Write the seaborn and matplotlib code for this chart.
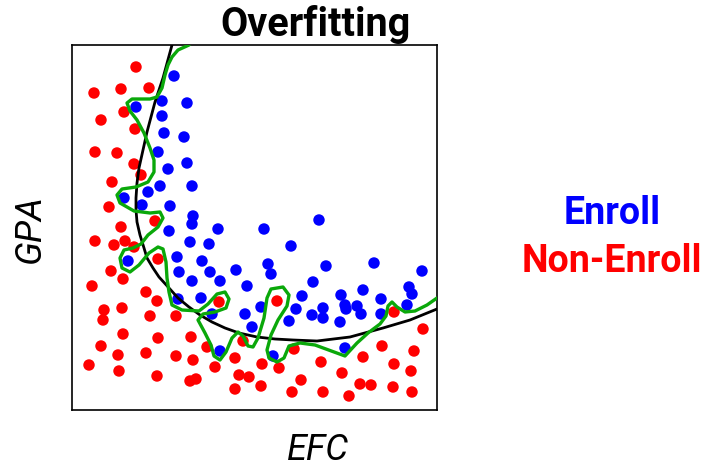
import numpy as np
import pandas as pd
import matplotlib
matplotlib.use("Agg")
import matplotlib.pyplot as plt
import seaborn as sns

# pontos (EFC, GPA) em unidades arbitrarias 0-365
enroll_efc = [102, 64, 90, 115, 90, 92, 112, 86, 115, 96, 88, 76, 120, 52, 70, 98, 121, 120,
              97, 118, 56, 105, 107, 120, 106, 146, 192, 137, 219, 130, 196, 138, 164, 199,
              148, 175, 241, 129, 140, 173, 189, 180, 148, 201, 230, 224, 217, 240, 247, 254,
              302, 350, 291, 337, 269, 340, 251, 251, 273, 274, 285, 289, 309, 309, 335, 268, 273]
enroll_gpa = [334, 303, 309, 307, 294, 277, 273, 258, 247, 241, 224, 218, 224, 212, 205, 204, 194, 186,
              179, 168, 149, 153, 138, 129, 111, 181, 181, 166, 164, 149, 146, 138, 140, 136,
              129, 124, 128, 112, 96, 96, 103, 83, 59, 54, 114, 101, 89, 95, 190, 144,
              147, 139, 120, 123, 115, 116, 102, 92, 105, 101, 104, 96, 111, 96, 105, 88, 62]

nonenroll_efc = [64, 22, 49, 77, 52, 29, 63, 23, 45, 62, 69, 40, 37, 83, 49, 23, 42, 53, 62, 86,
                 39, 51, 20, 74, 85, 32, 50, 31, 78, 104, 51, 86, 119, 29, 46, 74, 104, 121, 17,
                 47, 85, 118, 124, 147, 205, 135, 171, 222, 143, 163, 190, 207, 167, 177, 189,
                 229, 163, 220, 322, 351, 310, 342, 249, 291, 322, 339, 270, 288, 299, 321, 340,
                 251, 277]
nonenroll_gpa = [343, 317, 321, 322, 298, 290, 281, 258, 257, 246, 235, 228, 203, 189, 183, 169, 165, 169, 163, 151,
                 139, 131, 124, 118, 109, 100, 102, 90, 94, 94, 76, 72, 73, 64, 55, 57, 54, 50, 45,
                 39, 34, 29, 31, 108, 109, 63, 69, 61, 43, 52, 46, 42, 35, 33, 24,
                 30, 21, 18, 98, 81, 64, 59, 48, 53, 46, 39, 37, 26, 25, 23, 18,
                 18, 14]

# fronteira suave (preta)
smooth_efc = [102, 100, 91, 83, 75, 67, 65, 64, 64, 65, 68, 72, 75, 81, 87, 97, 106, 117, 128, 140,
              153, 167, 185, 203, 221, 245, 278, 311, 338, 365]
smooth_gpa = [370, 365, 332, 308, 278, 242, 227, 212, 200, 188, 175, 162, 152, 142, 133, 122, 112, 103, 95, 88,
              82, 77, 73, 71, 70, 69, 73, 82, 90, 101]

# fronteira sobreajustada (verde)
over_efc = [117, 106, 100, 96, 93, 90, 85, 78, 60, 55, 58, 65, 72, 78, 82, 82, 76, 64, 50, 45,
            48, 62, 78, 88, 91, 86, 76, 69, 61, 52, 48, 50, 58, 67, 77, 86, 91, 94, 95, 97,
            100, 110, 127, 136, 145, 153, 157, 154, 143, 131, 126, 133, 139, 142, 148, 154,
            160, 166, 171, 176, 181, 186, 192, 195, 199, 211, 217, 215, 206, 199, 195, 197,
            205, 212, 217, 228, 243, 273, 285, 296, 308, 314, 316, 320, 325, 333, 343, 355, 365]
over_gpa = [365, 360, 353, 345, 335, 322, 313, 311, 311, 307, 299, 290, 277, 262, 250, 238, 228, 223, 221, 215,
            207, 199, 197, 198, 192, 183, 175, 166, 162, 160, 152, 142, 138, 145, 157, 163, 161, 148, 132, 118,
            105, 100, 99, 106, 116, 118, 111, 102, 98, 96, 90, 77, 65, 54, 50, 58,
            72, 78, 74, 64, 63, 72, 92, 112, 121, 123, 115, 104, 90, 75, 60, 52,
            48, 52, 64, 67, 65, 54, 67, 77, 86, 94, 104, 108, 103, 98, 99, 105, 112]

pontos = pd.DataFrame({
    "EFC": enroll_efc + nonenroll_efc,
    "GPA": enroll_gpa + nonenroll_gpa,
    "Classe": ["Enroll"] * len(enroll_efc) + ["Non-Enroll"] * len(nonenroll_efc),
})
curva_suave = pd.DataFrame({"EFC": smooth_efc, "GPA": smooth_gpa})
curva_over = pd.DataFrame({"EFC": over_efc, "GPA": over_gpa})

sns.set_style("white")
plt.rcParams["font.family"] = ["Roboto", "DejaVu Sans"]
plt.rcParams["text.color"] = "black"

fig = plt.figure(figsize=(7.1, 4.68), dpi=100)
ax = fig.add_axes([72 / 710, 58 / 468, 365 / 710, 365 / 468])

sns.scatterplot(data=pontos, x="EFC", y="GPA", hue="Classe",
                palette={"Enroll": "#0000ff", "Non-Enroll": "#ff0000"},
                s=68, linewidth=0, legend=False, ax=ax, zorder=2)
sns.lineplot(data=curva_suave, x="EFC", y="GPA", sort=False, estimator=None,
             color="black", linewidth=2.0, ax=ax, zorder=3,
             solid_joinstyle="round", solid_capstyle="round")
sns.lineplot(data=curva_over, x="EFC", y="GPA", sort=False, estimator=None,
             color="#0aa80a", linewidth=2.4, ax=ax, zorder=4,
             solid_joinstyle="round", solid_capstyle="round")

ax.set_xlim(0, 365)
ax.set_ylim(0, 365)
ax.set_xticks([])
ax.set_yticks([])
ax.set_xlabel("")
ax.set_ylabel("")
for sp in ax.spines.values():
    sp.set_color("black")
    sp.set_linewidth(1.2)

fig.text(316 / 710, 1 - 25 / 468, "Overfitting", ha="center", va="center",
         fontsize=28.5, fontweight="bold", color="black")
fig.text(318 / 710, 1 - 450 / 468, "EFC", ha="center", va="center",
         fontsize=26, fontstyle="italic", fontweight="normal", color="black")
fig.text(30 / 710, 1 - 229 / 468, "GPA", ha="center", va="center", rotation=90,
         fontsize=26, fontstyle="italic", fontweight="normal", color="black")
fig.text(612 / 710, 1 - 214 / 468, "Enroll", ha="center", va="center",
         fontsize=27, fontweight="bold", color="#0000ff")
fig.text(612 / 710, 1 - 262 / 468, "Non-Enroll", ha="center", va="center",
         fontsize=27, fontweight="bold", color="#ff0000")

fig.savefig("out.png", dpi=100)
plt.close(fig)
